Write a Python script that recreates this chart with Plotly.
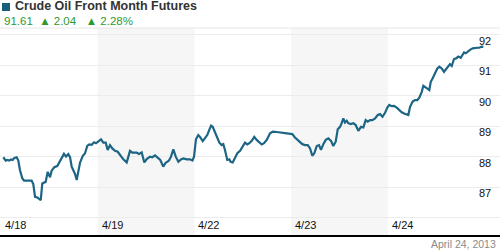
import plotly.graph_objects as go

# time in trading days since 4/18 open
t = [0.024,0.049,0.065,0.086,0.103,0.121,0.138,0.162,0.179,0.196,0.220,0.238,0.266,0.317,0.334,0.352,0.375,0.396,0.411,0.427,
     0.445,0.462,0.483,0.507,0.524,0.551,0.582,0.603,0.628,0.651,0.672,0.696,0.714,0.731,0.765,0.783,0.799,0.817,0.845,0.869,
     0.892,0.913,0.938,0.962,0.982,1.010,1.034,1.058,1.083,1.103,1.127,1.151,1.179,1.207,1.231,1.265,1.300,1.334,1.358,1.378,
     1.403,1.427,1.455,1.482,1.507,1.541,1.565,1.593,1.620,1.647,1.678,1.703,1.737,1.758,1.782,1.807,1.834,1.861,1.885,1.920,
     1.954,1.980,1.996,2.016,2.040,2.058,2.086,2.110,2.133,2.154,2.172,2.189,2.206,2.231,2.258,2.282,2.299,2.316,2.340,2.361,
     2.375,2.396,2.420,2.444,2.472,2.499,2.523,2.547,2.568,2.593,2.619,2.644,2.671,2.696,2.720,2.748,2.782,2.810,2.851,2.903,
     2.954,2.989,3.012,3.040,3.068,3.092,3.116,3.144,3.172,3.196,3.219,3.240,3.265,3.289,3.309,3.333,3.358,3.385,3.413,3.436,
     3.461,3.482,3.506,3.523,3.540,3.557,3.575,3.591,3.616,3.643,3.668,3.695,3.723,3.747,3.771,3.792,3.816,3.840,3.868,3.896,
     3.919,3.945,3.971,3.995,4.015,4.040,4.064,4.092,4.119,4.144,4.168,4.195,4.212,4.230,4.257,4.281,4.305,4.326,4.351,4.367,
     4.385,4.402,4.429,4.444,4.464,4.488,4.512,4.533,4.557,4.581,4.602,4.626,4.643,4.661,4.684,4.705,4.729,4.754,4.775,4.788,
     4.806,4.822,4.850,4.878,4.902,4.926,4.946,4.971,4.988]
price = [87.98,87.87,87.89,87.87,87.91,87.89,87.96,87.98,87.87,87.56,87.29,87.21,87.21,87.21,87.10,86.68,86.66,86.60,86.57,87.12,
         87.15,87.17,87.50,87.32,87.54,87.65,87.69,87.80,87.94,88.09,88.00,88.08,87.98,87.67,87.43,87.23,87.50,87.80,88.02,88.11,
         88.35,88.40,88.39,88.47,88.44,88.52,88.57,88.46,88.46,88.22,88.38,88.27,88.19,88.16,88.05,87.91,87.81,88.19,88.13,88.13,
         88.13,88.09,88.14,87.81,87.92,88.00,87.98,88.04,87.95,87.89,87.67,87.80,87.87,88.00,88.24,88.00,87.83,87.91,87.94,87.91,
         87.91,87.87,88.00,88.57,88.71,88.65,88.51,88.60,88.71,88.88,89.02,88.98,88.85,88.65,88.46,88.38,88.41,88.22,87.89,87.91,
         87.83,87.81,87.94,88.11,88.19,88.35,88.46,88.40,88.44,88.52,88.65,88.55,88.46,88.40,88.44,88.55,88.77,88.82,88.81,88.79,
         88.77,88.74,88.74,88.63,88.55,88.49,88.41,88.38,88.38,88.27,88.03,88.11,88.35,88.38,88.22,88.41,88.55,88.60,88.52,88.35,
         88.49,88.90,88.98,89.10,89.26,89.12,89.18,89.10,89.07,89.10,89.04,88.85,88.98,88.96,89.20,89.15,89.20,89.20,89.26,89.37,
         89.40,89.31,89.44,89.61,89.70,89.66,89.67,89.61,89.53,89.46,89.42,89.39,89.37,89.64,89.81,89.86,89.86,89.94,90.13,90.33,
         90.30,90.25,90.19,90.46,90.58,90.74,90.90,90.96,90.90,90.79,90.88,90.99,91.04,90.98,91.21,91.23,91.29,91.25,91.37,91.43,
         91.40,91.45,91.51,91.56,91.58,91.58,91.58,91.62,91.61]

day_labels = ["4/18", "4/19", "4/22", "4/23", "4/24"]
day_starts = [0, 1, 2, 3, 4]
shaded_days = [1, 3]
y_ticks = [86, 87, 88, 89, 90, 91, 92]
y_tick_labels = ["", "87", "88", "89", "90", "91", "92"]

title = "Crude Oil Front Month Futures"
last, change, pct = "91.61", "2.04", "2.28%"
date_text = "April 24, 2013"

LINE = "#1c6584"
FONT = "Liberation Sans, Arial, sans-serif"

fig = go.Figure()
fig.add_trace(go.Scatter(x=t, y=price, mode="lines",
                         line=dict(color=LINE, width=2.2, shape="linear"),
                         hoverinfo="skip", showlegend=False))

shapes = []
for d in shaded_days:
    shapes.append(dict(type="rect", xref="x", yref="paper", x0=d, x1=d + 1, y0=0, y1=1,
                       fillcolor="#f6f6f6", line=dict(width=0), layer="below"))
# top border
shapes.append(dict(type="line", xref="paper", yref="paper", x0=0, x1=1, y0=1, y1=1,
                   line=dict(color="#e6e6e6", width=1)))
# bottom axis line
shapes.append(dict(type="line", xref="paper", yref="paper", x0=0, x1=1, y0=0, y1=0,
                   line=dict(color="#000000", width=2)))

ann = []
for lab, d in zip(day_labels, day_starts):
    ann.append(dict(x=d, y=0, xref="x", yref="paper", text=lab, showarrow=False,
                    xanchor="left", yanchor="bottom", xshift=2, yshift=3,
                    font=dict(family=FONT, size=11, color="#111")))
for v, lab in zip(y_ticks, y_tick_labels):
    if lab:
        ann.append(dict(x=1, y=v, xref="paper", yref="y", text=lab, showarrow=False,
                        xanchor="right", yanchor="middle", xshift=-7, yshift=-6,
                        font=dict(family=FONT, size=11, color="#111")))
ann.append(dict(x=0, y=1, xref="paper", yref="paper", text="<b>" + title + "</b>", showarrow=False,
                xanchor="left", yanchor="bottom", xshift=14, yshift=14, borderpad=0,
                font=dict(family=FONT, size=12.5, color="#333")))
ann.append(dict(x=0, y=1, xref="paper", yref="paper",
                text=f"{last}  \u25b2 {change}   \u25b2 {pct}", showarrow=False,
                xanchor="left", yanchor="top", xshift=3, yshift=14, borderpad=0,
                font=dict(family=FONT, size=11.5, color="#2f9a2f")))
ann.append(dict(x=1, y=0, xref="paper", yref="paper", text=date_text, showarrow=False,
                xanchor="right", yanchor="middle", xshift=-2, yshift=-8,
                font=dict(family=FONT, size=10.5, color="#8a8a8a")))

# square marker in header
shapes.append(dict(type="rect", xref="paper", yref="paper", x0=0.004, x1=0.02,
                   y0=1 + 17 / 208, y1=1 + 25 / 208, fillcolor="#1b5e7b", line=dict(width=0)))

fig.update_layout(
    width=500, height=250,
    margin=dict(l=0, r=0, t=28, b=14),
    paper_bgcolor="white", plot_bgcolor="white",
    shapes=shapes, annotations=ann,
    xaxis=dict(range=[-0.0103, 5.160], showgrid=False, zeroline=False,
               showticklabels=False, ticks="", fixedrange=True),
    yaxis=dict(range=[85.39, 92.23], tickvals=y_ticks, showgrid=True,
               gridcolor="#ececec", gridwidth=1, zeroline=False,
               showticklabels=False, ticks="", fixedrange=True),
    showlegend=False,
)

fig.write_html("out.html", config={"displayModeBar": False})
